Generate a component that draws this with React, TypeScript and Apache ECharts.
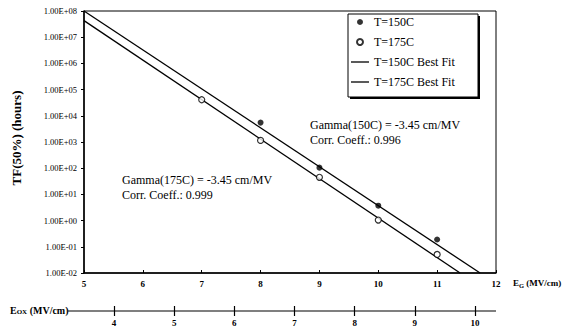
import React, { useEffect, useRef } from "react";
import * as echarts from "echarts";

// ---- data ----
const egRange = [5, 12];
const eoxRange = [4, 10];
const yRange = [0.01, 1e8];
const seriesNames = ["T=150C", "T=175C", "T=150C Best Fit", "T=175C Best Fit"];
const t150 = [
  [8, 5.5e3],
  [9, 1.05e2],
  [10, 3.7],
  [11, 0.19],
];
const t175 = [
  [7, 4.1e4],
  [8, 1.15e3],
  [9, 45],
  [10, 1.05],
  [11, 0.051],
];
const fit150 = [
  [5, 1.0e8],
  [11.73, 0.01],
];
const fit175 = [
  [5, 4.3e7],
  [11.39, 0.01],
];
const annotations = [
  "Gamma(150C) = -3.45 cm/MV",
  "Corr. Coeff.: 0.996",
  "Gamma(175C) = -3.45 cm/MV",
  "Corr. Coeff.: 0.999",
];
const yTitle = "TF(50%) (hours)";

const serif = "'Liberation Serif', 'Times New Roman', serif";

const fmtE = (v: number) => {
  const e = Math.round(Math.log10(v));
  return "1.00E" + (e < 0 ? "-" : "+") + String(Math.abs(e)).padStart(2, "0");
};

const lineIcon = "path://M0,0h18v1.3h-18z";

export default function App() {
  const ref = useRef<HTMLDivElement>(null);
  useEffect(() => {
    if (!ref.current) return;
    const chart = echarts.init(ref.current, undefined, { renderer: "svg" });
    const boldLabel = { fontFamily: serif, fontSize: 9, fontWeight: "bold", color: "#000" };
    const option: any = {
      animation: false,
      backgroundColor: "#fff",
      grid: [
        { left: 84, top: 11, width: 412, height: 262, show: true, borderColor: "#000", borderWidth: 1 },
        { left: 114, top: 310, width: 361, height: 1 },
      ],
      xAxis: [
        {
          type: "value",
          gridIndex: 0,
          min: egRange[0],
          max: egRange[1],
          interval: 1,
          position: "bottom",
          axisLine: { show: true, onZero: false, lineStyle: { color: "#000", width: 1.5 } },
          axisTick: { show: true, inside: true, length: 3, lineStyle: { color: "#000" } },
          axisLabel: { ...boldLabel, margin: 6 },
          splitLine: { show: false },
        },
        {
          type: "value",
          gridIndex: 1,
          min: eoxRange[0],
          max: eoxRange[1],
          interval: 1,
          position: "bottom",
          axisLine: { show: false, onZero: false },
          axisTick: { show: true, length: 5, lineStyle: { color: "#000", width: 1.2 } },
          axisLabel: { ...boldLabel, margin: 7 },
          splitLine: { show: false },
        },
        {
          type: "value",
          gridIndex: 1,
          min: eoxRange[0],
          max: eoxRange[1],
          interval: 1,
          position: "bottom",
          axisLine: { show: false, onZero: false },
          axisTick: { show: true, inside: true, length: 5, lineStyle: { color: "#000", width: 1.2 } },
          axisLabel: { show: false },
          splitLine: { show: false },
        },
      ],
      yAxis: [
        {
          type: "log",
          gridIndex: 0,
          logBase: 10,
          min: yRange[0],
          max: yRange[1],
          interval: 1,
          splitNumber: 10,
          axisLine: { show: true, onZero: false, lineStyle: { color: "#000", width: 1.5 } },
          axisTick: { show: true, length: 3, lineStyle: { color: "#000" } },
          axisLabel: {
            formatter: fmtE,
            fontFamily: serif,
            fontSize: 8.5,
            color: "#000",
            margin: 7,
            hideOverlap: false,
          },
          splitLine: { show: false },
        },
        { type: "value", gridIndex: 1, show: false, min: 0, max: 1 },
      ],
      legend: {
        orient: "vertical",
        left: 346,
        top: 11,
        padding: 5,
        itemGap: 8,
        itemWidth: 18,
        itemHeight: 6,
        textStyle: { fontFamily: serif, fontSize: 12, color: "#000" },
        data: [
          { name: seriesNames[0], icon: "circle" },
          { name: seriesNames[1], icon: "circle" },
          { name: seriesNames[2], icon: lineIcon },
          { name: seriesNames[3], icon: lineIcon },
        ],
      },
      series: [
        {
          name: seriesNames[0],
          type: "scatter",
          data: t150,
          symbol: "circle",
          symbolSize: 6,
          itemStyle: { color: "#000" },
          z: 5,
        },
        {
          name: seriesNames[1],
          type: "scatter",
          data: t175,
          symbol: "circle",
          symbolSize: 6,
          itemStyle: { color: "#fff", borderColor: "#000", borderWidth: 1.2 },
          z: 5,
        },
        {
          name: seriesNames[2],
          type: "line",
          data: fit150,
          symbol: "none",
          lineStyle: { color: "#000", width: 1.3 },
          itemStyle: { color: "#000" },
        },
        {
          name: seriesNames[3],
          type: "line",
          data: fit175,
          symbol: "none",
          lineStyle: { color: "#000", width: 1.3 },
          itemStyle: { color: "#000" },
        },
      ],
      graphic: [
        { type: "rect", z: 3, shape: { x: 350, y: 16, width: 130, height: 83 }, style: { fill: "#000" } },
        {
          type: "rect",
          z: 3,
          shape: { x: 348, y: 14, width: 130, height: 83 },
          style: { fill: "#fff", stroke: "#000", lineWidth: 1 },
        },
        {
          type: "text",
          x: 310,
          y: 125,
          style: { text: annotations[0], fontFamily: serif, fontSize: 12, fill: "#000", verticalAlign: "middle" },
        },
        {
          type: "text",
          x: 310,
          y: 140,
          style: { text: annotations[1], fontFamily: serif, fontSize: 12, fill: "#000", verticalAlign: "middle" },
        },
        {
          type: "text",
          x: 122,
          y: 180,
          style: { text: annotations[2], fontFamily: serif, fontSize: 12, fill: "#000", verticalAlign: "middle" },
        },
        {
          type: "text",
          x: 122,
          y: 195,
          style: { text: annotations[3], fontFamily: serif, fontSize: 12, fill: "#000", verticalAlign: "middle" },
        },
        {
          type: "text",
          x: 16,
          y: 138,
          rotation: Math.PI / 2,
          style: {
            text: yTitle,
            fontFamily: serif,
            fontSize: 13,
            fontWeight: "bold",
            fill: "#000",
            align: "center",
            verticalAlign: "middle",
          },
        },
        { type: "line", shape: { x1: 68, y1: 311, x2: 496, y2: 311 }, style: { stroke: "#000", lineWidth: 1.2 } },
        {
          type: "text",
          x: 513,
          y: 283,
          style: {
            text: "{b|E}{s|G}{b| (MV/cm)}",
            verticalAlign: "middle",
            rich: {
              b: { fontFamily: serif, fontSize: 9, fontWeight: "bold", fill: "#000" },
              s: { fontFamily: serif, fontSize: 6.5, fontWeight: "bold", fill: "#000", padding: [4, 0, 0, 0] },
            },
          },
        },
        {
          type: "text",
          x: 10,
          y: 310,
          style: {
            text: "{b|E}{s|OX}{b| (MV/cm)}",
            verticalAlign: "middle",
            rich: {
              b: { fontFamily: serif, fontSize: 10, fontWeight: "bold", fill: "#000" },
              s: { fontFamily: serif, fontSize: 7, fontWeight: "bold", fill: "#000", padding: [4, 0, 0, 0] },
            },
          },
        },
      ],
    };
    chart.setOption(option);
    return () => chart.dispose();
  }, []);
  return (
    <div
      ref={ref}
      style={{ position: "fixed", left: 0, top: 0, width: 564, height: 329 }}
    />
  );
}
